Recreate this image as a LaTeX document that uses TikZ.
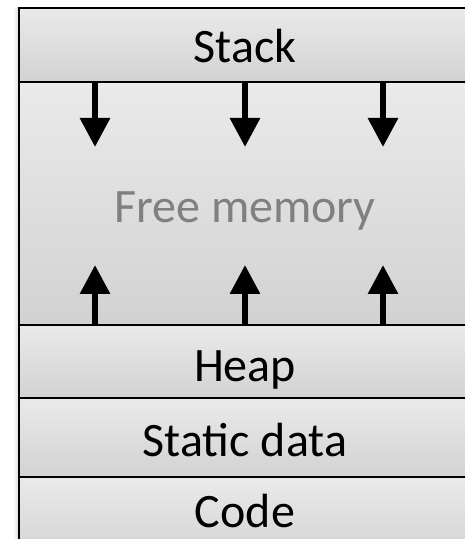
\documentclass[tikz,border=0pt]{standalone}
\usepackage{fontspec}
\setmainfont{Carlito}
\usetikzlibrary{arrows.meta}
\definecolor{bandtop}{HTML}{EAEAEA}
\definecolor{bandbot}{HTML}{D2D2D2}
\definecolor{freegray}{HTML}{808080}
\tikzset{
  band/.style={rectangle, draw=black, line width=1.6pt, minimum width=452pt,
    inner sep=0pt, outer sep=0pt, top color=bandtop, bottom color=bandbot},
  label/.style={anchor=base, font=\fontsize{48}{50}\selectfont, inner sep=0pt},
  growarrow/.style={line width=6pt, -{Triangle[width=29pt,length=29pt]}},
}
\begin{document}
\begin{tikzpicture}[x=1pt,y=1pt]
  \useasboundingbox (0,0) rectangle (464,539);
  % soft shadow on the left edge
  \shade[left color=white, right color=black!15] (13,-30) rectangle (19,531);
  % memory regions, top to bottom
  \node[band, minimum height=74pt,  anchor=north west] (stack)  at (19,531) {};
  \node[band, minimum height=243pt, anchor=north west] (free)   at (stack.south west) {};
  \node[band, minimum height=73pt,  anchor=north west] (heap)   at (free.south west) {};
  \node[band, minimum height=79pt,  anchor=north west] (static) at (heap.south west) {};
  \node[band, minimum height=83pt,  anchor=north west] (code)   at (static.south west) {};
  % outer frame
  \draw[line width=2pt] (code.south west) -- (stack.north west) -- (stack.north east);
  % labels
  \node[label] (lstack)  at (245,476) {Stack};
  \node[label, text=freegray] (lfree) at (245,316) {Free memory};
  \node[label] (lheap)   at (245,157) {Heap};
  \node[label] (lstatic) at (245,82)  {Static data};
  \node[label] (lcode)   at (245,12)  {Code};
  % growth arrows: stack grows down, heap grows up
  \foreach \i/\x in {1/95,2/245,3/383} {
    \coordinate (sd\i) at (\x,392);
    \coordinate (hu\i) at (\x,274);
    \draw[growarrow] (stack.south -| sd\i) -- (sd\i);
    \draw[growarrow] (heap.north -| hu\i) -- (hu\i);
  }
\end{tikzpicture}
\end{document}
